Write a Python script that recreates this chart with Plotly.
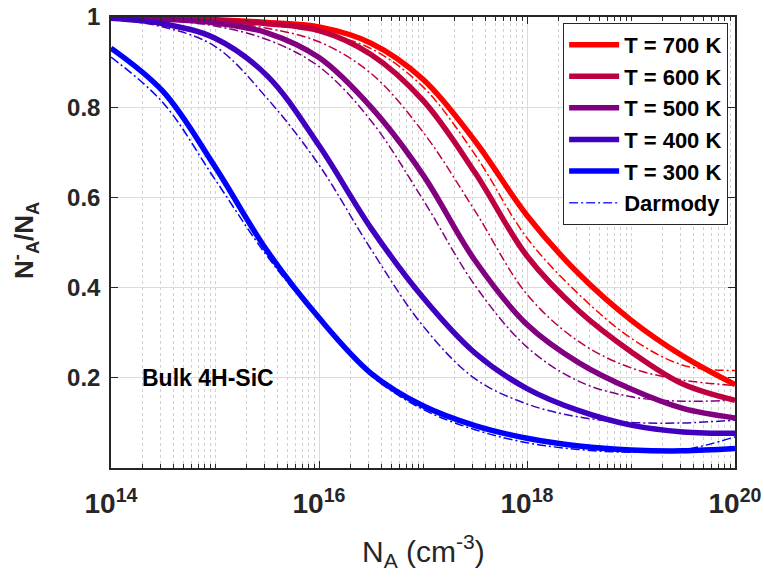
import plotly.graph_objects as go

# log10 of acceptor concentration (cm^-3), sampled every half decade
logN = [14, 14.5, 15, 15.5, 16, 16.5, 17, 17.5, 18, 18.5, 19, 19.5, 20]
NA = [10.0 ** v for v in logN]

temps = ["T = 700 K", "T = 600 K", "T = 500 K", "T = 400 K", "T = 300 K"]
colors = ["#FF0000", "#BF0040", "#800080", "#4000BF", "#0000FF"]

# model (solid) ionization ratio N_A^-/N_A
model_700 = [0.999, 0.997, 0.994, 0.988, 0.978, 0.942, 0.862, 0.725, 0.560, 0.430, 0.328, 0.248, 0.185]
model_600 = [0.999, 0.997, 0.993, 0.985, 0.970, 0.917, 0.815, 0.655, 0.470, 0.348, 0.258, 0.186, 0.150]
model_500 = [0.998, 0.995, 0.987, 0.965, 0.910, 0.800, 0.650, 0.460, 0.318, 0.233, 0.175, 0.132, 0.111]
model_400 = [0.997, 0.985, 0.953, 0.870, 0.715, 0.532, 0.378, 0.255, 0.176, 0.127, 0.095, 0.080, 0.077]
model_300 = [0.931, 0.835, 0.668, 0.482, 0.333, 0.210, 0.138, 0.094, 0.066, 0.049, 0.040, 0.038, 0.043]

# Darmody (dash-dot) ratio
darm_700 = [0.999, 0.997, 0.992, 0.983, 0.966, 0.930, 0.845, 0.695, 0.510, 0.385, 0.288, 0.228, 0.216]
darm_600 = [0.999, 0.996, 0.990, 0.975, 0.945, 0.875, 0.745, 0.570, 0.385, 0.280, 0.222, 0.195, 0.183]
darm_500 = [0.998, 0.993, 0.980, 0.950, 0.890, 0.770, 0.595, 0.405, 0.268, 0.192, 0.158, 0.148, 0.151]
darm_400 = [0.995, 0.978, 0.935, 0.820, 0.672, 0.485, 0.315, 0.198, 0.142, 0.113, 0.101, 0.100, 0.106]
darm_300 = [0.911, 0.810, 0.640, 0.470, 0.330, 0.205, 0.130, 0.085, 0.056, 0.041, 0.035, 0.040, 0.069]

models = [model_700, model_600, model_500, model_400, model_300]
darms = [darm_700, darm_600, darm_500, darm_400, darm_300]

x_tickvals = [1e14, 1e16, 1e18, 1e20]
x_ticktext = ["10<sup>14</sup>", "10<sup>16</sup>", "10<sup>18</sup>", "10<sup>20</sup>"]
y_tickvals = [0.2, 0.4, 0.6, 0.8, 1.0]
y_ticktext = ["0.2", "0.4", "0.6", "0.8", "1"]

minor_vals = []
for d in range(14, 20):
    for k in range(1, 10):
        if not (k == 1 and d % 2 == 0):
            minor_vals.append(float(k) * 10.0 ** d)

FONT = "Liberation Sans, Arial, sans-serif"
AX = "#262626"
DASH = "9px,3px,2px,3px"

fig = go.Figure()

for name, col, dv in zip(temps, colors, darms):
    fig.add_trace(go.Scatter(
        x=NA, y=dv, mode="lines", showlegend=False,
        line=dict(color=col, width=1.5, dash=DASH, shape="spline", smoothing=1.0),
    ))

for name, col, mv in zip(temps, colors, models):
    fig.add_trace(go.Scatter(
        x=NA, y=mv, mode="lines", name=name,
        line=dict(color=col, width=5.5, shape="spline", smoothing=1.0),
    ))

# legend entry for Darmody
fig.add_trace(go.Scatter(
    x=[None], y=[None], mode="lines", name="Darmody",
    line=dict(color="#2A2AFF", width=1.5, dash=DASH),
))

fig.add_annotation(
    x=14.28, y=0.2, xref="x", yref="y", text="<b>Bulk 4H-SiC</b>",
    showarrow=False, xanchor="left", yanchor="middle",
    font=dict(family=FONT, size=23, color="black"),
)

# axis titles
fig.add_annotation(
    x=0.5, y=-0.183, xref="paper", yref="paper", xanchor="center", yanchor="middle",
    text="N<sub>A</sub> (cm<sup>-3</sup>)", showarrow=False,
    font=dict(family=FONT, size=30, color=AX),
)
fig.add_annotation(
    x=-0.139, y=0.504, xref="paper", yref="paper", xanchor="center", yanchor="middle",
    text="<b>N<sup>-</sup><sub>A</sub>/N<sub>A</sub></b>", showarrow=False, textangle=-90,
    font=dict(family=FONT, size=26, color=AX),
)

fig.update_layout(
    width=764, height=578,
    margin=dict(l=111, r=29, t=17, b=110),
    paper_bgcolor="white", plot_bgcolor="white",
    font=dict(family=FONT, color=AX),
    legend=dict(
        x=0.989, y=0.987, xanchor="right", yanchor="top",
        bgcolor="white", bordercolor=AX, borderwidth=1,
        font=dict(family=FONT, size=22, color="black", weight="bold"),
        tracegroupgap=0, itemwidth=50,
    ),
)

fig.update_xaxes(
    type="log", range=[14, 20], automargin=False,
    tickmode="array", tickvals=x_tickvals, ticktext=x_ticktext,
    tickfont=dict(family=FONT, size=28, color=AX, weight="bold"),
    ticks="inside", ticklen=7, tickcolor=AX, ticklabelstandoff=10,
    showline=True, linecolor=AX, linewidth=1.5, mirror="allticks",
    showgrid=True, gridcolor="#DCDCDC", gridwidth=1,
    minor=dict(tickmode="array", tickvals=minor_vals, ticks="inside", ticklen=4,
               tickcolor=AX, showgrid=True, gridcolor="#D0D0D0", griddash="dot", gridwidth=1),
    zeroline=False,
)

fig.update_yaxes(
    range=[0, 1.0], automargin=False,
    tickmode="array", tickvals=y_tickvals, ticktext=y_ticktext,
    tickfont=dict(family=FONT, size=24, color=AX, weight="bold"),
    ticks="inside", ticklen=7, tickcolor=AX, ticklabelstandoff=4,
    showline=True, linecolor=AX, linewidth=1.5, mirror="allticks",
    showgrid=True, gridcolor="#DCDCDC", gridwidth=1,
    zeroline=False,
)

fig.write_html("out.html")
